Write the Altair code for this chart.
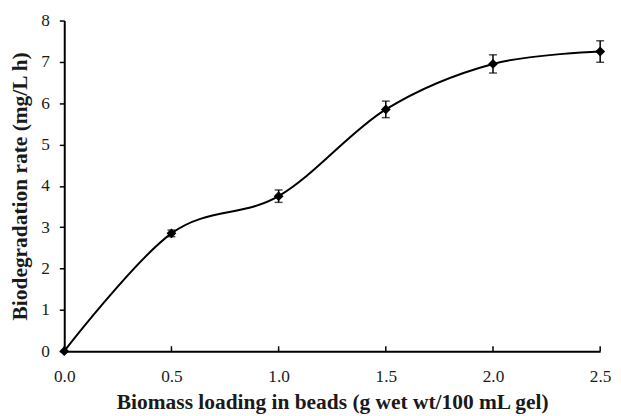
import altair as alt
import pandas as pd

loading = [0.0, 0.5, 1.0, 1.5, 2.0, 2.5]
rate = [0.0, 2.85, 3.75, 5.85, 6.95, 7.25]
err = [0.0, 0.08, 0.15, 0.2, 0.22, 0.26]
x_ticks = [0.0, 0.5, 1.0, 1.5, 2.0, 2.5]

df = pd.DataFrame({"x": loading, "y": rate, "err": err})
df["lo"] = df["y"] - df["err"]
df["hi"] = df["y"] + df["err"]
dfe = df[df["err"] > 0]
ticks_df = pd.DataFrame({"x": x_ticks, "y0": [0.0] * len(x_ticks), "y1": [0.12] * len(x_ticks)})

FONT = "Liberation Serif"
xs = alt.Scale(domain=[0, 2.5], nice=False, zero=False)
ys = alt.Scale(domain=[0, 8], nice=False)

xaxis = alt.Axis(values=x_ticks, format=".1f", tickSize=0, labelPadding=17, labelFlush=False,
                 title="Biomass loading in beads (g wet wt/100 mL gel)", titlePadding=7,
                 grid=False, domainColor="black", domainWidth=2)
yaxis = alt.Axis(values=list(range(0, 9)), tickSize=5, tickColor="black", tickWidth=1.5,
                 labelPadding=10, labelFlush=False, title="Biodegradation rate (mg/L h)", titlePadding=10,
                 grid=False, domainColor="black", domainWidth=2)

base = alt.Chart(df)

line = base.mark_line(color="black", strokeWidth=2, interpolate="cardinal").encode(
    x=alt.X("x:Q", scale=xs, axis=xaxis),
    y=alt.Y("y:Q", scale=ys, axis=yaxis),
)

pts = base.mark_point(shape="diamond", filled=True, color="black", size=100, opacity=1).encode(
    x=alt.X("x:Q", scale=xs), y=alt.Y("y:Q", scale=ys)
)

ebar = alt.Chart(dfe).mark_rule(color="black", strokeWidth=1.5).encode(
    x=alt.X("x:Q", scale=xs), y=alt.Y("lo:Q", scale=ys), y2="hi:Q"
)
cap_lo = alt.Chart(dfe).mark_tick(color="black", orient="horizontal", size=8, thickness=1.5).encode(
    x=alt.X("x:Q", scale=xs), y=alt.Y("lo:Q", scale=ys)
)
cap_hi = alt.Chart(dfe).mark_tick(color="black", orient="horizontal", size=8, thickness=1.5).encode(
    x=alt.X("x:Q", scale=xs), y=alt.Y("hi:Q", scale=ys)
)

xticks = alt.Chart(ticks_df).mark_rule(color="black", strokeWidth=1.5).encode(
    x=alt.X("x:Q", scale=xs), y=alt.Y("y0:Q", scale=ys), y2="y1:Q"
)

chart = alt.layer(xticks, line, ebar, cap_lo, cap_hi, pts).properties(
    width=543, height=335,
    autosize=alt.AutoSizeParams(type="none"),
    padding={"left": 57, "top": 10, "right": 13, "bottom": 63},
).configure_view(stroke=None).configure_axis(
    labelFont=FONT, titleFont=FONT, labelFontSize=17.5, titleFontSize=21.7,
    labelColor="#1a1a1a", titleColor="#1a1a1a", titleFontWeight="bold",
)

chart.save("out.html", embed_options={"renderer": "svg", "actions": False})
